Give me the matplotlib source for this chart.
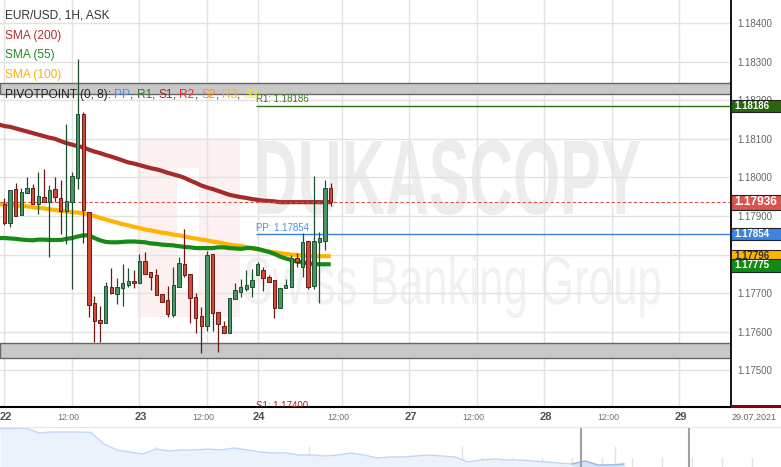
import numpy as np
import matplotlib.pyplot as plt
from matplotlib.patches import Rectangle, PathPatch
from matplotlib.textpath import TextPath
from matplotlib.font_manager import FontProperties
from matplotlib.transforms import Affine2D, blended_transform_factory

plt.rcParams['font.family'] = ['Liberation Sans', 'DejaVu Sans']

# EUR/USD 1H candles (hour index, weekend collapsed)
opens = [1.17931, 1.17882, 1.17970, 1.17903, 1.17960, 1.17973, 1.17931, 1.17949, 1.17936, 1.17970,
         1.17947, 1.17913, 1.17936, 1.17999, 1.18164, 1.17910, 1.17675, 1.17631, 1.17623, 1.17716,
         1.17698, 1.17714, 1.17721, 1.17732, 1.17727, 1.17784, 1.17755, 1.17747, 1.17698, 1.17683,
         1.17644, 1.17716, 1.17776, 1.17750, 1.17690, 1.17641, 1.17615, 1.17802, 1.17651, 1.17615,
         1.17597, 1.17685, 1.17703, 1.17711, 1.17716, 1.17747, 1.17760, 1.17742, 1.17734, 1.17662,
         1.17714, 1.17716, 1.17791, 1.17768, 1.17835, 1.17719, 1.17833, 1.17835, 1.17973]
highs = [1.17947, 1.17967, 1.17986, 1.17973, 1.18001, 1.17983, 1.18014, 1.18022, 1.17980, 1.18001,
         1.17993, 1.18138, 1.18014, 1.18307, 1.18170, 1.17910, 1.17693, 1.17667, 1.17729, 1.17765,
         1.17740, 1.17776, 1.17765, 1.17760, 1.17802, 1.17807, 1.17755, 1.17763, 1.17698, 1.17719,
         1.17768, 1.17794, 1.17866, 1.17750, 1.17701, 1.17664, 1.17810, 1.17802, 1.17651, 1.17628,
         1.17688, 1.17727, 1.17737, 1.17760, 1.17763, 1.17781, 1.17768, 1.17747, 1.17734, 1.17714,
         1.17737, 1.17799, 1.17804, 1.17856, 1.17835, 1.18004, 1.17859, 1.17993, 1.17986]
lows = [1.17877, 1.17872, 1.17900, 1.17903, 1.17960, 1.17931, 1.17905, 1.17936, 1.17794, 1.17936,
        1.17854, 1.17828, 1.17711, 1.17970, 1.17830, 1.17639, 1.17574, 1.17574, 1.17623, 1.17698,
        1.17672, 1.17667, 1.17716, 1.17714, 1.17727, 1.17750, 1.17708, 1.17696, 1.17677, 1.17639,
        1.17639, 1.17716, 1.17742, 1.17623, 1.17597, 1.17545, 1.17602, 1.17602, 1.17548, 1.17597,
        1.17597, 1.17685, 1.17690, 1.17706, 1.17690, 1.17747, 1.17706, 1.17729, 1.17636, 1.17662,
        1.17714, 1.17716, 1.17768, 1.17742, 1.17711, 1.17711, 1.17675, 1.17812, 1.17926]
closes = [1.17882, 1.17967, 1.17900, 1.17962, 1.17973, 1.17931, 1.17952, 1.17936, 1.17967, 1.17949,
          1.17913, 1.17939, 1.18004, 1.18164, 1.17916, 1.17670, 1.17628, 1.17623, 1.17719, 1.17701,
          1.17716, 1.17727, 1.17732, 1.17727, 1.17784, 1.17750, 1.17742, 1.17696, 1.17677, 1.17646,
          1.17721, 1.17778, 1.17747, 1.17688, 1.17636, 1.17615, 1.17799, 1.17649, 1.17620, 1.17597,
          1.17688, 1.17708, 1.17716, 1.17721, 1.17734, 1.17776, 1.17740, 1.17729, 1.17662, 1.17714,
          1.17721, 1.17791, 1.17781, 1.17833, 1.17716, 1.17835, 1.17843, 1.17973, 1.17936]

# moving averages, one value per hour from -1 to 58
sma200 = [1.18137, 1.18133, 1.18131, 1.18127, 1.18123, 1.18119, 1.18115, 1.18111, 1.18107, 1.18103,
          1.18100, 1.18094, 1.18089, 1.18085, 1.18081, 1.18078, 1.18072, 1.18067, 1.18063, 1.18058,
          1.18054, 1.18049, 1.18044, 1.18039, 1.18036, 1.18032, 1.18028, 1.18024, 1.18021, 1.18017,
          1.18012, 1.18008, 1.18004, 1.17999, 1.17992, 1.17986, 1.17979, 1.17974, 1.17970, 1.17965,
          1.17960, 1.17955, 1.17952, 1.17949, 1.17947, 1.17944, 1.17942, 1.17940, 1.17939, 1.17938,
          1.17936, 1.17936, 1.17936, 1.17936, 1.17936, 1.17936, 1.17936, 1.17936, 1.17936, 1.17936]
sma100 = [1.17931, 1.17930, 1.17929, 1.17927, 1.17926, 1.17925, 1.17923, 1.17921, 1.17920, 1.17917,
          1.17916, 1.17913, 1.17912, 1.17910, 1.17909, 1.17907, 1.17904, 1.17900, 1.17895, 1.17891,
          1.17887, 1.17883, 1.17879, 1.17876, 1.17872, 1.17869, 1.17865, 1.17863, 1.17860, 1.17857,
          1.17855, 1.17852, 1.17850, 1.17847, 1.17844, 1.17842, 1.17839, 1.17837, 1.17834, 1.17832,
          1.17829, 1.17826, 1.17824, 1.17822, 1.17820, 1.17817, 1.17813, 1.17811, 1.17808, 1.17806,
          1.17804, 1.17802, 1.17800, 1.17799, 1.17798, 1.17797, 1.17796, 1.17796, 1.17796, 1.17796]
sma55 = [1.17843, 1.17843, 1.17842, 1.17841, 1.17839, 1.17838, 1.17837, 1.17839, 1.17839, 1.17838,
         1.17838, 1.17838, 1.17841, 1.17843, 1.17847, 1.17850, 1.17850, 1.17843, 1.17837, 1.17833,
         1.17832, 1.17832, 1.17833, 1.17834, 1.17834, 1.17833, 1.17832, 1.17829, 1.17828, 1.17826,
         1.17825, 1.17824, 1.17822, 1.17820, 1.17819, 1.17817, 1.17817, 1.17817, 1.17817, 1.17819,
         1.17819, 1.17817, 1.17816, 1.17815, 1.17817, 1.17817, 1.17815, 1.17811, 1.17807, 1.17802,
         1.17795, 1.17790, 1.17786, 1.17782, 1.17780, 1.17777, 1.17776, 1.17775, 1.17775, 1.17775]

pp, r1, s1 = 1.17854, 1.18186, 1.17400
last_price = 1.17936
bands = [(1.18215, 1.18245), (1.17532, 1.17571)]

day_ticks = [0, 24, 45, 72, 96, 120]
day_labels = ['22', '23', '24', '27', '28', '29']
noon_ticks = [12, 36, 60, 84, 108]
y_ticks = [1.175, 1.176, 1.177, 1.178, 1.179, 1.180, 1.181, 1.182, 1.183, 1.184]

# navigator (overview) heights
nav_vals = [38.5, 38.5, 39, 34, 35, 35, 35, 34.5, 23, 17, 15, 13, 18, 16, 17, 17, 18, 17, 19, 17,
            15, 14, 14, 12, 12, 11, 12, 14, 12, 9, 10, 10, 11, 12, 11, 10, 5, 7, 8, 7,
            7, 6, 5, 4, 3, 6, 2, 2, 3]

W, H = 781, 467
fig = plt.figure(figsize=(W / 100, H / 100), dpi=100)
ax = fig.add_axes([0, 60 / H, 731 / W, 407 / H])
ax.set_xlim(-0.8, 129.16)
ax.set_ylim(1.174054, 1.184596)
ax.set_axisbelow(True)

# watermark
def watermark(s, x0, x1, y0, y1, color, weight):
    tp = TextPath((0, 0), s, size=100, prop=FontProperties(family='Liberation Sans', weight=weight))
    bb = tp.get_extents()
    tr = Affine2D().translate(-bb.x0, -bb.y0).scale((x1 - x0) / bb.width, (y1 - y0) / bb.height)
    tr = tr.translate(x0, H - y1).scale(1 / 100) + fig.dpi_scale_trans
    ax.add_patch(PathPatch(tp, transform=tr, facecolor=color, edgecolor='none', zorder=0.3))

pix = Affine2D().scale(1 / 100) + fig.dpi_scale_trans
ax.add_patch(Rectangle((137, H - 317), 103, 179, transform=pix, facecolor='#fcf0f0', edgecolor='none', zorder=0.2))
ax.add_patch(Rectangle((177, H - 290), 22, 122, transform=pix, facecolor='white', edgecolor='none', zorder=0.25))
watermark('DUKASCOPY', 258, 640, 140, 215, '#ececec', 'bold')
watermark('Swiss Banking Group', 245, 660, 255, 318, '#f1f1f1', 'normal')

# grid
ax.set_yticks(y_ticks)
ax.set_yticklabels([f'{v:.5f}' for v in y_ticks])
ax.set_xticks(sorted(day_ticks + noon_ticks))
ax.set_xticklabels([])
ax.grid(True, color='#e2e2e2', lw=1)
ax.yaxis.tick_right()
ax.tick_params(axis='y', length=0, pad=4.5, labelsize=7, labelcolor='#666666')
ax.tick_params(axis='x', length=0)
for sp in ['top', 'left']:
    ax.spines[sp].set_visible(False)
ax.spines['right'].set_linewidth(1.3)
ax.spines['bottom'].set_linewidth(1.5)

for lo, hi in bands:
    ax.axhspan(lo, hi, facecolor='#c8c8c8', edgecolor='#666666', lw=1, zorder=1)

# moving averages
sma_h = np.arange(-1, 59)
ax.plot(sma_h, sma200, color='#a52a2a', lw=3, solid_capstyle='butt', zorder=2)
ax.plot(sma_h, sma100, color='#ffb400', lw=3, solid_capstyle='butt', zorder=2)
ax.plot(sma_h, sma55, color='#158a15', lw=3, solid_capstyle='butt', zorder=2.1)

# pivot lines
ax.hlines(r1, 44.7, 130, color='#2d7010', lw=1, zorder=2.5)
ax.hlines(pp, 44.7, 130, color='#3a80e8', lw=1, zorder=2.5)
ax.text(44.7, r1 + 0.00003, 'R1: 1.18186', color='#3b7a26', fontsize=7, va='bottom', zorder=2.6)
ax.text(44.7, pp + 0.00003, 'PP: 1.17854', color='#4a8ae8', fontsize=7, va='bottom', zorder=2.6)
ax.text(44.7, s1 - 0.00006, 'S1: 1.17400', color='#b02020', fontsize=7, va='bottom', zorder=2.6,
        clip_on=True)
ax.axhline(last_price, color='#d9534f', lw=0.8, dashes=(3, 2), zorder=2.4)

# candles
hrs = np.arange(len(opens))
o, hgh, low, c = map(np.array, (opens, highs, lows, closes))
up = c >= o
for mask, face, edge in [(up, '#4a9466', '#1d4f2e'), (~up, '#d24a36', '#6b1a12')]:
    ax.vlines(hrs[mask], low[mask], hgh[mask], color=edge, lw=0.9, zorder=3)
    body = np.maximum(np.abs(c - o), 0.00003)[mask]
    ax.bar(hrs[mask], body, bottom=np.minimum(o, c)[mask], width=0.62,
           color=face, edgecolor=edge, lw=0.7, zorder=3.1)

# x labels
xt = blended_transform_factory(ax.transData, ax.transAxes)
for t, lab in zip(day_ticks, day_labels):
    ax.text(t + 0.2, -10 / 407, lab, transform=xt, ha='center', va='center',
            fontsize=8, fontweight='bold', color='#505050', clip_on=False)
for t in noon_ticks:
    ax.text(t - 0.7, -10 / 407, '12:00', transform=xt, ha='center', va='center',
            fontsize=6.3, color='#707070', clip_on=False)
fig.text(754 / W, 1 - 417 / H, '29.07.2021', ha='center', va='center', fontsize=6.5, color='#666666')

# price tags on the right axis
yt = blended_transform_factory(ax.transAxes, ax.transData)
ppx = 0.0000259

def tag(price, face, txt, tcol, fs, hpx, dy=0):
    ax.add_patch(Rectangle((1.0, price - (hpx / 2 - dy) * ppx), 52 / 731, hpx * ppx, transform=yt,
                           facecolor=face, edgecolor='#222222', lw=0.8, clip_on=False, zorder=10))
    ax.text(1.0 + 3 / 731, price + dy * ppx, txt, transform=yt, color=tcol, fontsize=fs,
            fontweight='bold', va='center', ha='left', clip_on=False, zorder=11)

tag(1.17796, '#ffb400', '1.17796', '#333333', 7, 12)
tag(1.17775, '#138a13', '1.17775', 'white', 7, 13, dy=-1)
tag(pp, '#3d85e0', '1.17854', 'white', 7, 12)
tag(last_price, '#d9534f', '1.17936', 'white', 8.6, 15)
tag(r1, '#2a660d', '1.18186', 'white', 7, 12)
fig.patches.append(Rectangle((731 / W, (H - 408) / H), 50 / W, 3 / H, transform=fig.transFigure,
                             facecolor='#8b0000', edgecolor='none'))

# legend texts
def ftext(x, y, s, color):
    return fig.text(x / W, 1 - y / H, s, color=color, fontsize=8.6, va='center', ha='left')

ftext(5, 15, 'EUR/USD, 1H, ASK', '#333333')
ftext(5, 35.5, 'SMA (200)', '#b03030')
ftext(5, 55, 'SMA (55)', '#1e8c1e')
ftext(5, 75, 'SMA (100)', '#ffb000')
parts = [('PIVOTPOINT (0, 8): ', '#222222'), ('PP', '#4a90e2'), (', ', '#222222'),
         ('R1', '#2e7d1e'), (', ', '#222222'), ('S1', '#b82020'), (', ', '#222222'),
         ('R2', '#ff2020'), (', ', '#222222'), ('S2', '#ff8c1a'), (', ', '#222222'),
         ('R3', '#ffb800'), (', ', '#222222'), ('S3', '#ffe600')]
renderer = fig.canvas.get_renderer()
xpos = 5
for s, col in parts:
    t = ftext(xpos, 95, s, col)
    xpos = t.get_window_extent(renderer).x1

# navigator
nav = fig.add_axes([0, 0, 1, 40 / H])
nx = np.arange(len(nav_vals))
step = 13
nav.set_xlim(0, W / step)
nav.set_ylim(0, 40)
nav.fill_between(nx, 0, nav_vals, color='#ecf2fc', lw=0)
nav.plot(nx, nav_vals, color='#c2d6f4', lw=1)
sel = nx >= 581 / step - 1
nav.fill_between(nx[sel], 0, np.array(nav_vals)[sel], color='#d6e4fa', lw=0)
nav.plot(nx[sel], np.array(nav_vals)[sel], color='#9dbbef', lw=1)
for gx in [2, 155, 309, 462, 615]:
    nav.axvline(gx / step, ymin=0, ymax=0.5, color='#e3e3e3', lw=1, zorder=0)
for gx in range(32, 781, 30):
    nav.axvline(gx / step, ymin=0, ymax=0.22, color='#e3e3e3', lw=1, zorder=0)
for hx in [581, 689]:
    nav.axvline(hx / step, color='#a0a0a0', lw=1.5)
nav.set_xticks([])
nav.set_yticks([])
for sp in ['left', 'right', 'bottom']:
    nav.spines[sp].set_visible(False)
nav.spines['top'].set_color('#e6e6e6')

fig.savefig('out.png', dpi=100)
